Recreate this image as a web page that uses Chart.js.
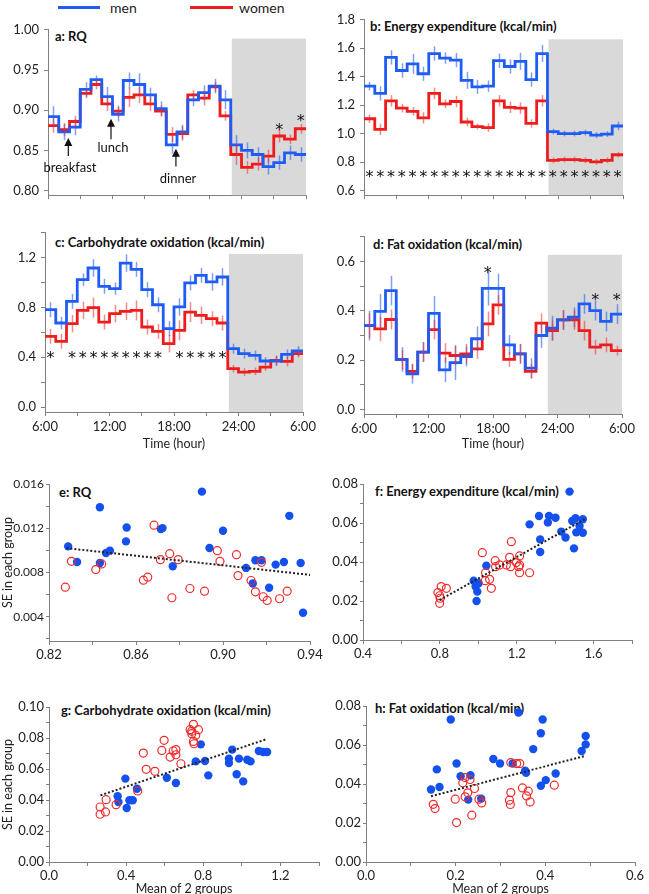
<!DOCTYPE html>
<html>
<head>
<meta charset="utf-8">
<script src="https://cdn.jsdelivr.net/npm/chart.js@4.4.1/dist/chart.umd.min.js"></script>
<style>
  body { margin: 0; background: #fff; width: 649px; height: 894px; position: relative; overflow: hidden; font-family: Lato, "Open Sans", sans-serif; }
  canvas { position: absolute; }
  .t { position: absolute; font-weight: bold; font-size: 13px; line-height: 16px; color: #111; white-space: nowrap; }
  .leg { position: absolute; font-size: 14px; line-height: 16px; color: #222; }
  .sw { position: absolute; height: 3px; }
</style>
</head>
<body>
<div class="sw" style="left:58px;top:6px;width:42px;background:#1f5cf5"></div>
<div class="leg" style="left:110px;top:0px">men</div>
<div class="sw" style="left:190px;top:6px;width:43px;background:#ee1c1c"></div>
<div class="leg" style="left:239px;top:0px">women</div>

<div class="t" style="left:55px;top:28px">a: RQ</div>
<div class="t" style="left:370px;top:18px">b: Energy expenditure (kcal/min)</div>
<div class="t" style="left:55px;top:234px">c: Carbohydrate oxidation (kcal/min)</div>
<div class="t" style="left:373px;top:236px">d: Fat oxidation (kcal/min)</div>
<div class="t" style="left:59px;top:484px">e: RQ</div>
<div class="t" style="left:375px;top:483px">f: Energy expenditure (kcal/min)</div>
<div class="t" style="left:61px;top:702px">g: Carbohydrate oxidation (kcal/min)</div>
<div class="t" style="left:375px;top:700px">h: Fat oxidation (kcal/min)</div>

<script>
// ---------- data: hourly means from 6:00 to 6:00 ----------
const timeTicks = [0, 3, 6, 9, 12, 15, 18, 21, 24];
const timeLabelAt = [0, 6, 12, 18, 24];
const timeLabelText = ['6:00', '12:00', '18:00', '24:00', '6:00'];
const nightStart = 17.1;

const aMen = [0.892, 0.873, 0.879, 0.926, 0.938, 0.917, 0.895, 0.937, 0.932, 0.919, 0.902, 0.857, 0.873, 0.913, 0.922, 0.930, 0.913, 0.857, 0.850, 0.845, 0.830, 0.835, 0.847, 0.845];
const aWomen = [0.881, 0.876, 0.886, 0.921, 0.932, 0.908, 0.899, 0.916, 0.919, 0.908, 0.899, 0.870, 0.871, 0.919, 0.915, 0.929, 0.893, 0.845, 0.829, 0.833, 0.843, 0.868, 0.864, 0.877];
const aMenErr = [0.013, 0.010, 0.010, 0.009, 0.005, 0.012, 0.009, 0.010, 0.014, 0.009, 0.009, 0.011, 0.009, 0.008, 0.009, 0.009, 0.012, 0.012, 0.010, 0.009, 0.010, 0.009, 0.009, 0.009];
const aWomenErr = [0.009, 0.008, 0.007, 0.006, 0.006, 0.009, 0.007, 0.012, 0.010, 0.009, 0.007, 0.009, 0.009, 0.006, 0.009, 0.006, 0.006, 0.013, 0.008, 0.008, 0.008, 0.008, 0.006, 0.006];

const bMen = [1.334, 1.283, 1.536, 1.444, 1.490, 1.421, 1.563, 1.531, 1.517, 1.375, 1.329, 1.334, 1.513, 1.472, 1.508, 1.380, 1.563, 1.015, 1.001, 1.001, 1.008, 0.990, 0.997, 1.054];
const bWomen = [1.105, 1.031, 1.231, 1.180, 1.157, 1.111, 1.283, 1.210, 1.226, 1.082, 1.050, 1.043, 1.231, 1.185, 1.180, 1.072, 1.231, 0.813, 0.818, 0.818, 0.813, 0.802, 0.813, 0.852];
const bMenErr = [0.03, 0.05, 0.05, 0.05, 0.07, 0.05, 0.05, 0.04, 0.05, 0.06, 0.05, 0.04, 0.05, 0.05, 0.06, 0.05, 0.06, 0.02, 0.02, 0.02, 0.02, 0.02, 0.02, 0.03];
const bWomenErr = [0.03, 0.04, 0.04, 0.03, 0.03, 0.04, 0.04, 0.03, 0.04, 0.03, 0.02, 0.03, 0.04, 0.04, 0.04, 0.03, 0.04, 0.02, 0.02, 0.02, 0.02, 0.02, 0.02, 0.02];

const cMen = [0.782, 0.675, 0.849, 1.023, 1.117, 0.970, 0.951, 1.157, 1.106, 0.943, 0.822, 0.630, 0.804, 0.997, 1.058, 1.005, 1.045, 0.469, 0.429, 0.415, 0.370, 0.370, 0.423, 0.450];
const cWomen = [0.568, 0.528, 0.670, 0.777, 0.798, 0.683, 0.750, 0.769, 0.777, 0.643, 0.608, 0.509, 0.616, 0.763, 0.737, 0.710, 0.675, 0.308, 0.281, 0.287, 0.321, 0.375, 0.367, 0.429];
const cMenErr = [0.06, 0.05, 0.06, 0.05, 0.07, 0.06, 0.05, 0.07, 0.06, 0.06, 0.06, 0.06, 0.07, 0.06, 0.06, 0.07, 0.07, 0.04, 0.04, 0.04, 0.03, 0.04, 0.04, 0.04];
const cWomenErr = [0.06, 0.06, 0.07, 0.07, 0.08, 0.06, 0.07, 0.07, 0.08, 0.06, 0.06, 0.07, 0.08, 0.08, 0.07, 0.06, 0.06, 0.03, 0.03, 0.03, 0.03, 0.04, 0.04, 0.03];

const dMen = [0.340, 0.398, 0.482, 0.203, 0.145, 0.233, 0.390, 0.161, 0.190, 0.215, 0.287, 0.491, 0.491, 0.262, 0.226, 0.168, 0.300, 0.330, 0.363, 0.374, 0.428, 0.401, 0.357, 0.387];
const dWomen = [0.340, 0.327, 0.365, 0.202, 0.155, 0.233, 0.324, 0.229, 0.219, 0.226, 0.246, 0.347, 0.424, 0.203, 0.226, 0.155, 0.350, 0.320, 0.363, 0.363, 0.320, 0.253, 0.262, 0.239];
const dMenErr = [0.06, 0.07, 0.06, 0.05, 0.04, 0.04, 0.07, 0.05, 0.07, 0.04, 0.05, 0.07, 0.06, 0.04, 0.04, 0.04, 0.05, 0.05, 0.04, 0.04, 0.04, 0.04, 0.04, 0.04];
const dWomenErr = [0.05, 0.05, 0.04, 0.04, 0.03, 0.04, 0.04, 0.04, 0.04, 0.04, 0.04, 0.05, 0.04, 0.03, 0.04, 0.03, 0.04, 0.04, 0.04, 0.04, 0.04, 0.03, 0.03, 0.02];

// significance stars (hour index, y value)
const aStarHours = [21, 23];
const aStarValues = [0.881, 0.892];
const bStarHours = [0, 1, 2, 3, 4, 5, 6, 7, 8, 9, 10, 11, 12, 13, 14, 15, 16, 17, 18, 19, 20, 21, 22, 23];
const bStarValues = [0.722, 0.722, 0.722, 0.722, 0.722, 0.722, 0.722, 0.722, 0.722, 0.722, 0.722, 0.722, 0.722, 0.722, 0.722, 0.722, 0.722, 0.722, 0.722, 0.722, 0.722, 0.722, 0.722, 0.722];
const cStarHours = [0, 2, 3, 4, 5, 6, 7, 8, 9, 10, 12, 13, 14, 15, 16];
const cStarValues = [0.43, 0.43, 0.43, 0.43, 0.43, 0.43, 0.43, 0.43, 0.43, 0.43, 0.43, 0.43, 0.43, 0.43, 0.43];
const dStarHours = [11, 21, 23];
const dStarValues = [0.571, 0.462, 0.462];

// meal markers on panel a
const mealNames = ['breakfast', 'lunch', 'dinner'];
const mealHour = [1.89, 5.86, 11.9];
const mealTip = [0.8655, 0.8895, 0.852];
const mealTail = [0.843, 0.864, 0.830];
const mealLabelHour = [2.05, 6.05, 12.1];
const mealLabelValue = [0.828, 0.8535, 0.8145];

// ---------- data: SE vs mean of 2 groups ----------
const eMen = [[0.8288, 0.01036], [0.8329, 0.00895], [0.8434, 0.0139], [0.8434, 0.00886], [0.8462, 0.00976], [0.848, 0.00997], [0.8554, 0.01081], [0.8557, 0.01207], [0.8714, 0.01192], [0.8722, 0.01201], [0.8769, 0.00856], [0.8903, 0.01531], [0.8938, 0.01021], [0.900, 0.01177], [0.9106, 0.00841], [0.9137, 0.0070], [0.9149, 0.0091], [0.9177, 0.0091], [0.9212, 0.00661], [0.9242, 0.00871], [0.928, 0.00895], [0.9305, 0.01312], [0.9357, 0.00886], [0.9368, 0.00436]];
const eWomen = [[0.8275, 0.00667], [0.8303, 0.00901], [0.8415, 0.00826], [0.8442, 0.00877], [0.8634, 0.0073], [0.8654, 0.00757], [0.8683, 0.01228], [0.8712, 0.00916], [0.8755, 0.0097], [0.8765, 0.00571], [0.8794, 0.00916], [0.8848, 0.00655], [0.8915, 0.00631], [0.8974, 0.00997], [0.8986, 0.00901], [0.9062, 0.00961], [0.9069, 0.00772], [0.9129, 0.00727], [0.9149, 0.00625], [0.9177, 0.00892], [0.9185, 0.0058], [0.9203, 0.00547], [0.926, 0.00562], [0.9295, 0.00631]];
const eTrend = [[0.828, 0.0102], [0.9414, 0.00775]];

const fMen = [[1.475, 0.0761], [1.316, 0.0636], [1.368, 0.0636], [1.402, 0.0627], [1.362, 0.0603], [1.267, 0.0593], [1.489, 0.061], [1.506, 0.0624], [1.544, 0.0619], [1.527, 0.0585], [1.432, 0.0556], [1.51, 0.0552], [1.454, 0.0526], [1.544, 0.055], [1.322, 0.0516], [1.322, 0.0451], [1.498, 0.047], [1.042, 0.0381], [0.976, 0.0304], [0.99, 0.0287], [1.002, 0.0291], [0.986, 0.0274], [0.995, 0.0248], [0.991, 0.020]];
const fWomen = [[1.172, 0.0504], [1.021, 0.0448], [1.088, 0.0407], [1.163, 0.0424], [1.215, 0.0431], [1.038, 0.0345], [1.09, 0.0376], [1.146, 0.0385], [1.168, 0.0376], [1.198, 0.0397], [1.21, 0.0376], [1.215, 0.0385], [1.215, 0.0345], [1.267, 0.0345], [1.036, 0.0304], [1.059, 0.0311], [1.068, 0.0265], [0.807, 0.0274], [0.834, 0.0265], [0.79, 0.0243], [0.799, 0.0227], [0.802, 0.0214], [0.799, 0.0188], [1.111, 0.0385]];
const fTrend = [[0.799, 0.0205], [1.553, 0.0619]];

const gMen = [[0.787, 0.0759], [0.950, 0.0725], [1.088, 0.0716], [1.11, 0.071], [1.131, 0.071], [0.933, 0.0667], [0.985, 0.0667], [1.028, 0.066], [1.045, 0.0649], [0.933, 0.0639], [0.761, 0.0649], [0.809, 0.0652], [0.396, 0.0538], [0.611, 0.0544], [0.826, 0.0559], [0.973, 0.0566], [1.007, 0.052], [0.658, 0.051], [0.456, 0.0473], [0.356, 0.0424], [0.36, 0.0387], [0.417, 0.0398], [0.434, 0.0398], [0.403, 0.0348]];
const gWomen = [[0.749, 0.0888], [0.732, 0.0854], [0.740, 0.0828], [0.775, 0.0854], [0.761, 0.0817], [0.749, 0.0778], [0.752, 0.0763], [0.597, 0.0785], [0.489, 0.0703], [0.585, 0.072], [0.644, 0.0716], [0.658, 0.0725], [0.658, 0.0692], [0.628, 0.0677], [0.684, 0.0634], [0.504, 0.0598], [0.549, 0.0585], [0.46, 0.0458], [0.296, 0.0402], [0.348, 0.037], [0.265, 0.0355], [0.293, 0.0323], [0.265, 0.0308], [0.740, 0.0843]];
const gTrend = [[0.267, 0.043], [1.131, 0.0794]];

const hMen = [[0.189, 0.0731], [0.340, 0.0767], [0.394, 0.0731], [0.39, 0.066], [0.49, 0.0646], [0.49, 0.0603], [0.481, 0.0569], [0.373, 0.0579], [0.284, 0.0528], [0.299, 0.0505], [0.327, 0.0505], [0.202, 0.0505], [0.158, 0.0475], [0.355, 0.0468], [0.357, 0.0457], [0.423, 0.0454], [0.211, 0.044], [0.233, 0.0445], [0.401, 0.042], [0.39, 0.0391], [0.145, 0.0372], [0.164, 0.0385], [0.257, 0.0325], [0.228, 0.032]];
const hWomen = [[0.323, 0.051], [0.336, 0.0505], [0.343, 0.0505], [0.221, 0.0433], [0.232, 0.0423], [0.216, 0.0406], [0.242, 0.0377], [0.349, 0.038], [0.42, 0.0394], [0.323, 0.0356], [0.362, 0.0363], [0.358, 0.0339], [0.227, 0.0355], [0.221, 0.0334], [0.252, 0.0322], [0.199, 0.0322], [0.258, 0.0303], [0.32, 0.0317], [0.322, 0.0295], [0.366, 0.0308], [0.15, 0.0296], [0.154, 0.0274], [0.236, 0.024], [0.202, 0.0202]];
const hTrend = [[0.145, 0.0337], [0.49, 0.0545]];

// ---------- styling ----------
const FONT = 'Lato, "Open Sans", sans-serif';
const BLUE = '#1f5cf5';
const RED = '#ee1c1c';
const BLUE_ERR = 'rgba(40, 95, 235, 0.6)';
const RED_ERR = 'rgba(240, 40, 40, 0.55)';
const DOT_BLUE = '#1450ee';
const DOT_RED = '#ef2a2a';
const AXIS = '#808080';

function place(area, yW, xH, padT, padR) {
    const c = document.createElement('canvas');
    c.width = Math.round(yW + (area.r - area.l) + padR);
    c.height = Math.round(padT + (area.b - area.t) + xH);
    c.style.left = (area.l - yW) + 'px';
    c.style.top = (area.t - padT) + 'px';
    document.body.appendChild(c);
    return c;
}

function near(v, list) {
    return list.findIndex(t => Math.abs(t - v) < 1e-7);
}

function axis(o) {
    return {
        type: 'linear',
        min: o.min,
        max: o.max,
        afterBuildTicks: s => { s.ticks = o.ticks.map(v => ({ value: v })); },
        afterFit: s => { if (o.horiz) s.height = o.size; else s.width = o.size; },
        ticks: {
            autoSkip: false,
            maxRotation: 0,
            padding: o.pad,
            color: '#222',
            font: { family: FONT, size: o.fontSize || 13 },
            callback: v => {
                const i = near(v, o.labels);
                if (i < 0) return '';
                return o.texts ? o.texts[i] : v.toFixed(o.dec);
            }
        },
        grid: { display: true, drawOnChartArea: false, drawTicks: true, tickLength: o.tickLen || 4, color: AXIS },
        border: { display: true, color: AXIS, width: 1 },
        title: o.title ? { display: true, text: o.title, color: '#222', font: { family: FONT, size: 12.5 }, padding: { top: 0, bottom: 0 } } : { display: false }
    };
}

function steps(vals) {
    const pts = vals.map((v, h) => ({ x: h, y: v }));
    pts.push({ x: vals.length, y: vals[vals.length - 1] });
    return pts;
}

function nightShade(top) {
    return {
        id: 'night',
        beforeDatasetsDraw(chart) {
            const { ctx, chartArea, scales: { x, y } } = chart;
            const x0 = x.getPixelForValue(nightStart);
            const x1 = x.getPixelForValue(24);
            const y0 = y.getPixelForValue(top);
            ctx.save();
            ctx.fillStyle = '#d9d9d9';
            ctx.fillRect(x0, y0, x1 - x0, chartArea.bottom - y0);
            ctx.restore();
        }
    };
}

const errorBars = {
    id: 'errorBars',
    afterDatasetsDraw(chart) {
        const { ctx, scales: { x, y } } = chart;
        chart.data.datasets.forEach(ds => {
            if (!ds.errors) return;
            ctx.save();
            ctx.strokeStyle = ds.errColor;
            ctx.lineWidth = 1.5;
            ds.errors.forEach((e, h) => {
                const v = ds.values[h];
                const px = Math.round(x.getPixelForValue(h + 0.5)) + 0.5;
                ctx.beginPath();
                ctx.moveTo(px, y.getPixelForValue(v - e));
                ctx.lineTo(px, y.getPixelForValue(v + e));
                ctx.stroke();
            });
            ctx.restore();
        });
    }
};

function stars(hoursList, values) {
    return {
        id: 'stars',
        afterDatasetsDraw(chart) {
            const { ctx, scales: { x, y } } = chart;
            ctx.save();
            ctx.fillStyle = '#111';
            ctx.font = '16px "DejaVu Sans"';
            ctx.textAlign = 'center';
            ctx.textBaseline = 'alphabetic';
            hoursList.forEach((h, i) => {
                ctx.fillText('*', x.getPixelForValue(h + 0.5), y.getPixelForValue(values[i]) + 9);
            });
            ctx.restore();
        }
    };
}

const meals = {
    id: 'meals',
    afterDatasetsDraw(chart) {
        const { ctx, scales: { x, y } } = chart;
        ctx.save();
        ctx.strokeStyle = '#111';
        ctx.fillStyle = '#111';
        ctx.lineWidth = 1.2;
        ctx.font = '13px ' + FONT;
        ctx.textAlign = 'center';
        ctx.textBaseline = 'middle';
        mealNames.forEach((name, i) => {
            const px = x.getPixelForValue(mealHour[i]);
            const tip = y.getPixelForValue(mealTip[i]);
            const tail = y.getPixelForValue(mealTail[i]);
            ctx.beginPath();
            ctx.moveTo(px, tail);
            ctx.lineTo(px, tip + 6);
            ctx.stroke();
            ctx.beginPath();
            ctx.moveTo(px, tip);
            ctx.lineTo(px - 4, tip + 8);
            ctx.lineTo(px + 4, tip + 8);
            ctx.closePath();
            ctx.fill();
            ctx.fillText(name, x.getPixelForValue(mealLabelHour[i]), y.getPixelForValue(mealLabelValue[i]));
        });
        ctx.restore();
    }
};

function timePanel(o) {
    const canvas = place(o.area, o.yW, o.xH, 12, 20);
    const line = (vals, errs, color, errColor) => ({
        data: steps(vals), values: vals, errors: errs, errColor: errColor,
        stepped: 'before', borderColor: color, borderWidth: 2.8, pointRadius: 0,
        borderJoinStyle: 'miter', fill: false
    });
    return new Chart(canvas, {
        type: 'line',
        data: { datasets: [line(o.men, o.menErr, BLUE, BLUE_ERR), line(o.women, o.womenErr, RED, RED_ERR)] },
        options: {
            responsive: false, animation: false, devicePixelRatio: 1,
            layout: { padding: { top: 12, right: 20, left: 0, bottom: 0 } },
            plugins: { legend: { display: false }, tooltip: { enabled: false } },
            scales: {
                x: axis({ horiz: true, min: 0, max: 24, ticks: timeTicks, labels: o.xLabels ? timeLabelAt : [], texts: timeLabelText, size: o.xH, pad: 3, title: o.xTitle }),
                y: axis({ min: o.yMin, max: o.yMax, ticks: o.yTicks, labels: o.yLabels, dec: o.dec, size: o.yW, pad: 5 })
            }
        },
        plugins: [nightShade(o.nightTop), errorBars, stars(o.starHours, o.starValues)].concat(o.extra || [])
    });
}

function scatterPanel(o) {
    const canvas = place(o.area, o.yW, o.xH, 12, 20);
    const pts = arr => arr.map(p => ({ x: p[0], y: p[1] }));
    return new Chart(canvas, {
        type: 'scatter',
        data: {
            datasets: [
                { type: 'line', data: pts(o.trend), borderColor: '#222', borderWidth: 2, borderDash: [2, 2], pointRadius: 0, fill: false },
                { data: pts(o.women), pointRadius: 4, pointBorderWidth: 1.2, pointBorderColor: DOT_RED, pointBackgroundColor: 'rgba(255,255,255,0)' },
                { data: pts(o.men), pointRadius: 4.2, pointBorderWidth: 0, pointBackgroundColor: DOT_BLUE, pointBorderColor: DOT_BLUE }
            ]
        },
        options: {
            responsive: false, animation: false, devicePixelRatio: 1,
            layout: { padding: { top: 12, right: 20, left: 0, bottom: 0 } },
            plugins: { legend: { display: false }, tooltip: { enabled: false } },
            scales: {
                x: axis({ horiz: true, min: o.xMin, max: o.xMax, ticks: o.xTicks, labels: o.xLabels, dec: o.xDec, size: o.xH, pad: 2, title: o.xTitle }),
                y: axis({ min: o.yMin, max: o.yMax, ticks: o.yTicks, labels: o.yLabels, dec: o.yDec, size: o.yW, pad: 2, tickLen: 3, fontSize: o.yFont, title: o.yTitle })
            }
        }
    });
}

// ---------- panels a-d ----------
timePanel({
    area: { l: 48, r: 306, t: 28.5, b: 197.3 }, yW: 46, xH: 10,
    men: aMen, women: aWomen, menErr: aMenErr, womenErr: aWomenErr,
    yMin: 0.7944, yMax: 1.0, yTicks: [0.80, 0.85, 0.90, 0.95, 1.00], yLabels: [0.80, 0.85, 0.90, 0.95, 1.00], dec: 2,
    nightTop: 0.989, starHours: aStarHours, starValues: aStarValues, extra: [meals]
});
timePanel({
    area: { l: 364, r: 623, t: 18.5, b: 197.3 }, yW: 44, xH: 10,
    men: bMen, women: bWomen, menErr: bMenErr, womenErr: bWomenErr,
    yMin: 0.568, yMax: 1.8, yTicks: [0.6, 0.8, 1.0, 1.2, 1.4, 1.6, 1.8], yLabels: [0.6, 0.8, 1.0, 1.2, 1.4, 1.6, 1.8], dec: 1,
    nightTop: 1.663, starHours: bStarHours, starValues: bStarValues
});
timePanel({
    area: { l: 45, r: 303, t: 232, b: 411.7 }, yW: 44, xH: 39, xLabels: true, xTitle: 'Time (hour)',
    men: cMen, women: cWomen, menErr: cMenErr, womenErr: cWomenErr,
    yMin: -0.04, yMax: 1.4, yTicks: [0, 0.2, 0.4, 0.6, 0.8, 1.0, 1.2, 1.4], yLabels: [0, 0.4, 0.8, 1.2], dec: 1,
    nightTop: 1.23, starHours: cStarHours, starValues: cStarValues
});
timePanel({
    area: { l: 364, r: 622, t: 236, b: 413.5 }, yW: 44, xH: 37, xLabels: true, xTitle: 'Time (hour)',
    men: dMen, women: dWomen, menErr: dMenErr, womenErr: dWomenErr,
    yMin: -0.018, yMax: 0.7, yTicks: [0, 0.1, 0.2, 0.3, 0.4, 0.5, 0.6, 0.7], yLabels: [0, 0.2, 0.4, 0.6], dec: 1,
    nightTop: 0.627, starHours: dStarHours, starValues: dStarValues
});

// ---------- panels e-h ----------
scatterPanel({
    area: { l: 49, r: 310, t: 484, b: 641 }, yW: 49, xH: 20, yFont: 12,
    men: eMen, women: eWomen, trend: eTrend,
    xMin: 0.82, xMax: 0.94, xTicks: [0.82, 0.84, 0.86, 0.88, 0.90, 0.92, 0.94], xLabels: [0.82, 0.86, 0.90, 0.94], xDec: 2,
    yMin: 0.0018, yMax: 0.016, yTicks: [0.002, 0.004, 0.006, 0.008, 0.010, 0.012, 0.014, 0.016], yLabels: [0.004, 0.008, 0.012, 0.016], yDec: 3,
    yTitle: 'SE in each group'
});
scatterPanel({
    area: { l: 363, r: 632, t: 484, b: 640 }, yW: 43, xH: 20,
    men: fMen, women: fWomen, trend: fTrend,
    xMin: 0.4, xMax: 1.8, xTicks: [0.4, 0.6, 0.8, 1.0, 1.2, 1.4, 1.6, 1.8], xLabels: [0.4, 0.8, 1.2, 1.6], xDec: 1,
    yMin: 0, yMax: 0.08, yTicks: [0, 0.01, 0.02, 0.03, 0.04, 0.05, 0.06, 0.07, 0.08], yLabels: [0, 0.02, 0.04, 0.06, 0.08], yDec: 2
});
scatterPanel({
    area: { l: 49, r: 319, t: 706.7, b: 861.7 }, yW: 49, xH: 34, xTitle: 'Mean of 2 groups',
    men: gMen, women: gWomen, trend: gTrend,
    xMin: 0, xMax: 1.4, xTicks: [0, 0.2, 0.4, 0.6, 0.8, 1.0, 1.2, 1.4], xLabels: [0, 0.4, 0.8, 1.2], xDec: 1,
    yMin: 0, yMax: 0.10, yTicks: [0, 0.01, 0.02, 0.03, 0.04, 0.05, 0.06, 0.07, 0.08, 0.09, 0.10], yLabels: [0, 0.02, 0.04, 0.06, 0.08, 0.10], yDec: 2,
    yTitle: 'SE in each group'
});
scatterPanel({
    area: { l: 366, r: 635, t: 706, b: 861.7 }, yW: 46, xH: 34, xTitle: 'Mean of 2 groups',
    men: hMen, women: hWomen, trend: hTrend,
    xMin: 0, xMax: 0.6, xTicks: [0, 0.1, 0.2, 0.3, 0.4, 0.5, 0.6], xLabels: [0, 0.2, 0.4, 0.6], xDec: 1,
    yMin: 0, yMax: 0.08, yTicks: [0, 0.01, 0.02, 0.03, 0.04, 0.05, 0.06, 0.07, 0.08], yLabels: [0, 0.02, 0.04, 0.06, 0.08], yDec: 2
});
</script>
</body>
</html>
